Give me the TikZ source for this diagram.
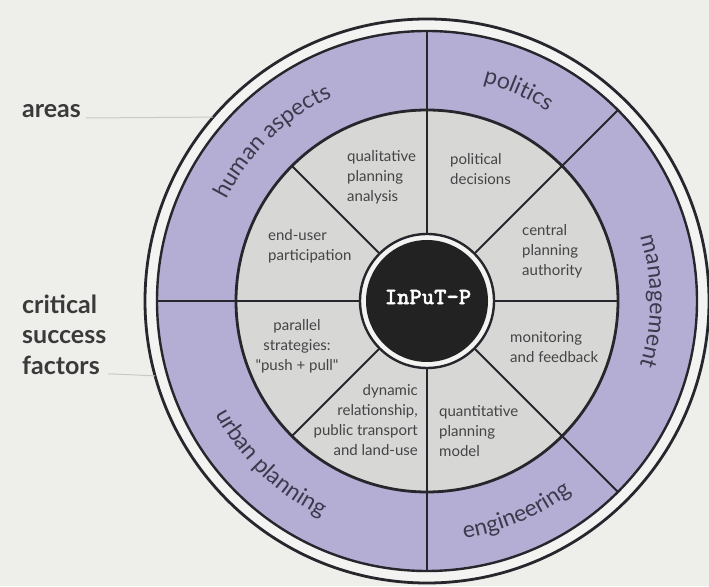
\documentclass[tikz,border=0pt]{standalone}
\usepackage{fontspec}
\setmainfont{Lato}
\newfontfamily\quotefont{Lato}[Ligatures=TeXOff]
\newfontfamily\codefont{lmmonolt10-bold.otf}[FakeBold=1.5]
\usetikzlibrary{decorations.text}
\definecolor{bgc}{RGB}{238,238,235}
\definecolor{ringc}{RGB}{243,243,241}
\definecolor{purp}{RGB}{181,174,212}
\definecolor{grayc}{RGB}{215,215,213}
\definecolor{linec}{RGB}{38,38,44}
\definecolor{txtc}{RGB}{68,68,70}
\definecolor{labc}{RGB}{60,58,76}
\definecolor{lblc}{RGB}{58,58,58}
\definecolor{guidec}{RGB}{200,200,198}
\definecolor{corec}{RGB}{34,34,34}
\newcommand\ringfont{\fontsize{23}{28}\selectfont}
\newcommand\sq{{\quotefont"}}
\begin{document}
\begin{tikzpicture}[x=1pt,y=1pt,
  innertxt/.style={font=\fontsize{15}{20}\selectfont, text=txtc, inner sep=0pt},
  sidelabel/.style={font=\bfseries\fontsize{25}{30.5}\selectfont, text=lblc, inner sep=0pt, align=left},
  spoke/.style={draw=linec, line width=1.8pt},
  guide/.style={draw=guidec, line width=1pt},
  ringlabel/.style={decoration={text along path, text align=center, text color=labc}, decorate}]
\useasboundingbox (0,0) rectangle (709,586);
\fill[bgc] (0,0) rectangle (709,586);
\coordinate (C) at (427,285);
% rings
\filldraw[fill=ringc, draw=linec, line width=2.8pt] (C) circle[radius=282];
\filldraw[fill=purp, draw=linec, line width=2.4pt] (C) circle[radius=270];
\filldraw[fill=grayc, draw=linec, line width=2.8pt] (C) circle[radius=191];
% spokes of inner ring
\foreach \a in {0,45,...,315}
  \draw[spoke] (C) ++(\a:66) -- ++(\a:125);
% spokes of outer ring
\foreach \a in {45,90,180,270,315}
  \draw[spoke] (C) ++(\a:191) -- ++(\a:79);
% centre
\filldraw[fill=ringc, draw=linec, line width=2.4pt] (C) circle[radius=67];
\fill[corec] (C) circle[radius=61];
\node[font=\codefont\fontsize{23.5}{23.5}\selectfont, text=white, inner sep=0pt] (core) at (428,289) {InPuT-P};
% ring labels
\path[ringlabel, decoration={text={|\ringfont|human aspects}}] (C) ++(184:225) arc[start angle=184, end angle=84, radius=225];
\path[ringlabel, decoration={text={|\ringfont|politics}}] (C) ++(98:225) arc[start angle=98, end angle=35, radius=225];
\path[ringlabel, decoration={text={|\ringfont|management}}] (C) ++(40:223) arc[start angle=40, end angle=-40, radius=223];
\path[ringlabel, decoration={text={|\ringfont|engineering}}] (C) ++(-110:240) arc[start angle=-110, end angle=-24, radius=240];
\path[ringlabel, decoration={text={|\ringfont|urban planning}}] (C) ++(180:240) arc[start angle=180, end angle=272, radius=240];
% inner sector labels
\node[innertxt, align=left, anchor=west] (qual) at (347,408.5) {qualitative\\planning\\analysis};
\node[innertxt, align=left, anchor=west] (poli) at (450,417) {political\\decisions};
\node[innertxt, align=left, anchor=west] (cent) at (522,335) {central\\planning\\authority};
\node[innertxt, align=left, anchor=west] (endu) at (268,339.5) {end-user\\participation};
\node[innertxt, align=left, anchor=west] (moni) at (510,238.5) {monitoring\\and feedback};
\node[innertxt, align=left, anchor=west] (quan) at (439,154.5) {quantitative\\planning\\model};
\node[innertxt, align=right, anchor=east] (dyna) at (418,165.5) {dynamic\\relationship,\\public transport\\and land-use};
\node[innertxt, align=center] (para) at (297,240) {parallel\\strategies:\\\sq push + pull\sq};
% side labels
\node[sidelabel, anchor=base west] (areas) at (22,468) {areas};
\node[sidelabel, anchor=west] (csf) at (22,251.3) {critical\\success\\factors};
\path (C) ++(139.3:282) coordinate (aend);
\path (C) ++(195.4:282) coordinate (cend);
\draw[guide] ([xshift=5pt]areas.base east) -- (aend);
\draw[guide] ([xshift=2pt,yshift=1pt]csf.south east) -- (cend);
\end{tikzpicture}
\end{document}
